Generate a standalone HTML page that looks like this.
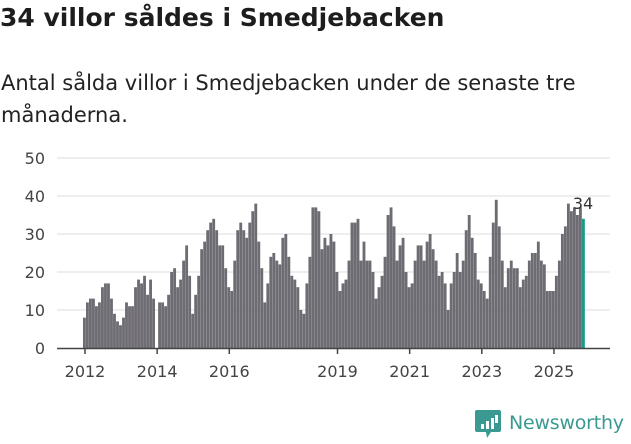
<!DOCTYPE html>
<html><head><meta charset="utf-8">
<style>
body{margin:0;width:631px;height:439px;background:#fff;font-family:"DejaVu Sans","Liberation Sans",sans-serif;overflow:hidden;position:relative}
h1{position:absolute;left:0px;top:3px;margin:0;font-size:25px;font-weight:bold;color:#1d1d1d;white-space:nowrap}
p{position:absolute;left:1px;top:67px;margin:0;font-size:21px;line-height:32px;color:#222;width:630px;white-space:nowrap}
svg{position:absolute;left:0;top:0}
</style></head><body>
<h1>34 villor såldes i Smedjebacken</h1>
<p>Antal sålda villor i Smedjebacken under de senaste tre<br>månaderna.</p>
<svg id="chart" width="631" height="439"></svg>
<script>
const startYear = 2011, startMonth = 11; // Dec 2011 (0-based month)
const values = [8,12,13,13,11,12,16,17,17,13,9,7,6,8,12,11,11,16,18,17,19,14,18,13,0,12,12,11,14,20,21,16,18,23,27,19,9,14,19,26,28,31,33,34,31,27,27,21,16,15,23,31,33,31,29,33,36,38,
28,21,12,17,24,25,23,22,29,30,24,19,18,16,10,9,17,24,37,37,36,26,29,27,30,28,20,15,17,18,23,33,33,34,23,28,23,23,20,13,16,19,24,35,37,32,23,27,29,20,16,17,23,27,27,23,
28,30,26,23,19,20,17,10,17,20,25,20,23,31,35,29,25,18,17,15,13,24,33,39,32,23,16,21,23,21,21,16,18,19,23,25,25,28,23,22,15,15,15,19,23,30,32,38,36,37,35,37,34];
const yTicks = [0,10,20,30,40,50];
const xTickYears = [2012,2014,2016,2019,2021,2023,2025];
const NS='http://www.w3.org/2000/svg';
const svg=document.getElementById('chart');
const y0=348, yPer=3.8, xLeft=83, step=3.006;
const yScale=v=>y0-v*yPer;
const xScale=i=>xLeft+i*step;
function mk(t,a){const e=document.createElementNS(NS,t);for(const k in a)e.setAttribute(k,a[k]);svg.appendChild(e);return e;}
const FF='DejaVu Sans, Liberation Sans, sans-serif';
yTicks.forEach(v=>{
  if(v>0){const g=mk('line',{x1:57,x2:610,y1:yScale(v),y2:yScale(v),stroke:'#e3e3e3','stroke-width':1.2});
  
  }
  const t=mk('text',{x:45,y:yScale(v)+6,'text-anchor':'end','font-size':16,fill:'#444','font-family':FF});
  t.textContent=v;
  
  
});
values.forEach((v,i)=>{
  if(!v)return;
  const last=i===values.length-1;
  const r=mk('rect',{x:xScale(i),y:yScale(v),width:2.85,height:v*yPer,fill:last?'#1b9a8b':'#6d6c72'});
  
  
  if(last){const t=mk('text',{x:xScale(i)+1,y:yScale(v)-10,'text-anchor':'middle','font-size':16,fill:'#333','font-family':FF});
    t.textContent=v;
    
    }
});
const ax=mk('line',{x1:57,x2:610,y1:y0+0.5,y2:y0+0.5,stroke:'#444','stroke-width':1.5});


xTickYears.forEach(yr=>{
  const idx=(yr-startYear)*12-startMonth;
  const x=xScale(idx)-1;
  const tk=mk('line',{x1:x,x2:x,y1:y0,y2:y0+6,stroke:'#444','stroke-width':1.5});
  
  
  const t=mk('text',{x:x,y:y0+29,'text-anchor':'middle','font-size':16,fill:'#444','font-family':FF});
  t.textContent=yr;
  
  
});
</script>
<svg width="160" height="40" style="left:474px;top:404px">
<path d="M3 6 h22 a2 2 0 0 1 2 2 v18 a2 2 0 0 1 -2 2 h-8 l-4 6 l-1 -6 h-9 a2 2 0 0 1 -2 -2 v-18 a2 2 0 0 1 2 -2z" fill="#3a9a91"/>
<rect x="7" y="20" width="3" height="5" fill="#fff"/><rect x="12" y="17" width="3" height="8" fill="#fff"/><rect x="17" y="14" width="3" height="11" fill="#fff"/><rect x="21" y="11" width="3" height="8" fill="#fff"/>
<text x="35" y="25" font-size="19" fill="#3a9a91" textLength="115" font-family="DejaVu Sans, Liberation Sans, sans-serif">Newsworthy</text>
</svg>
</body></html>
